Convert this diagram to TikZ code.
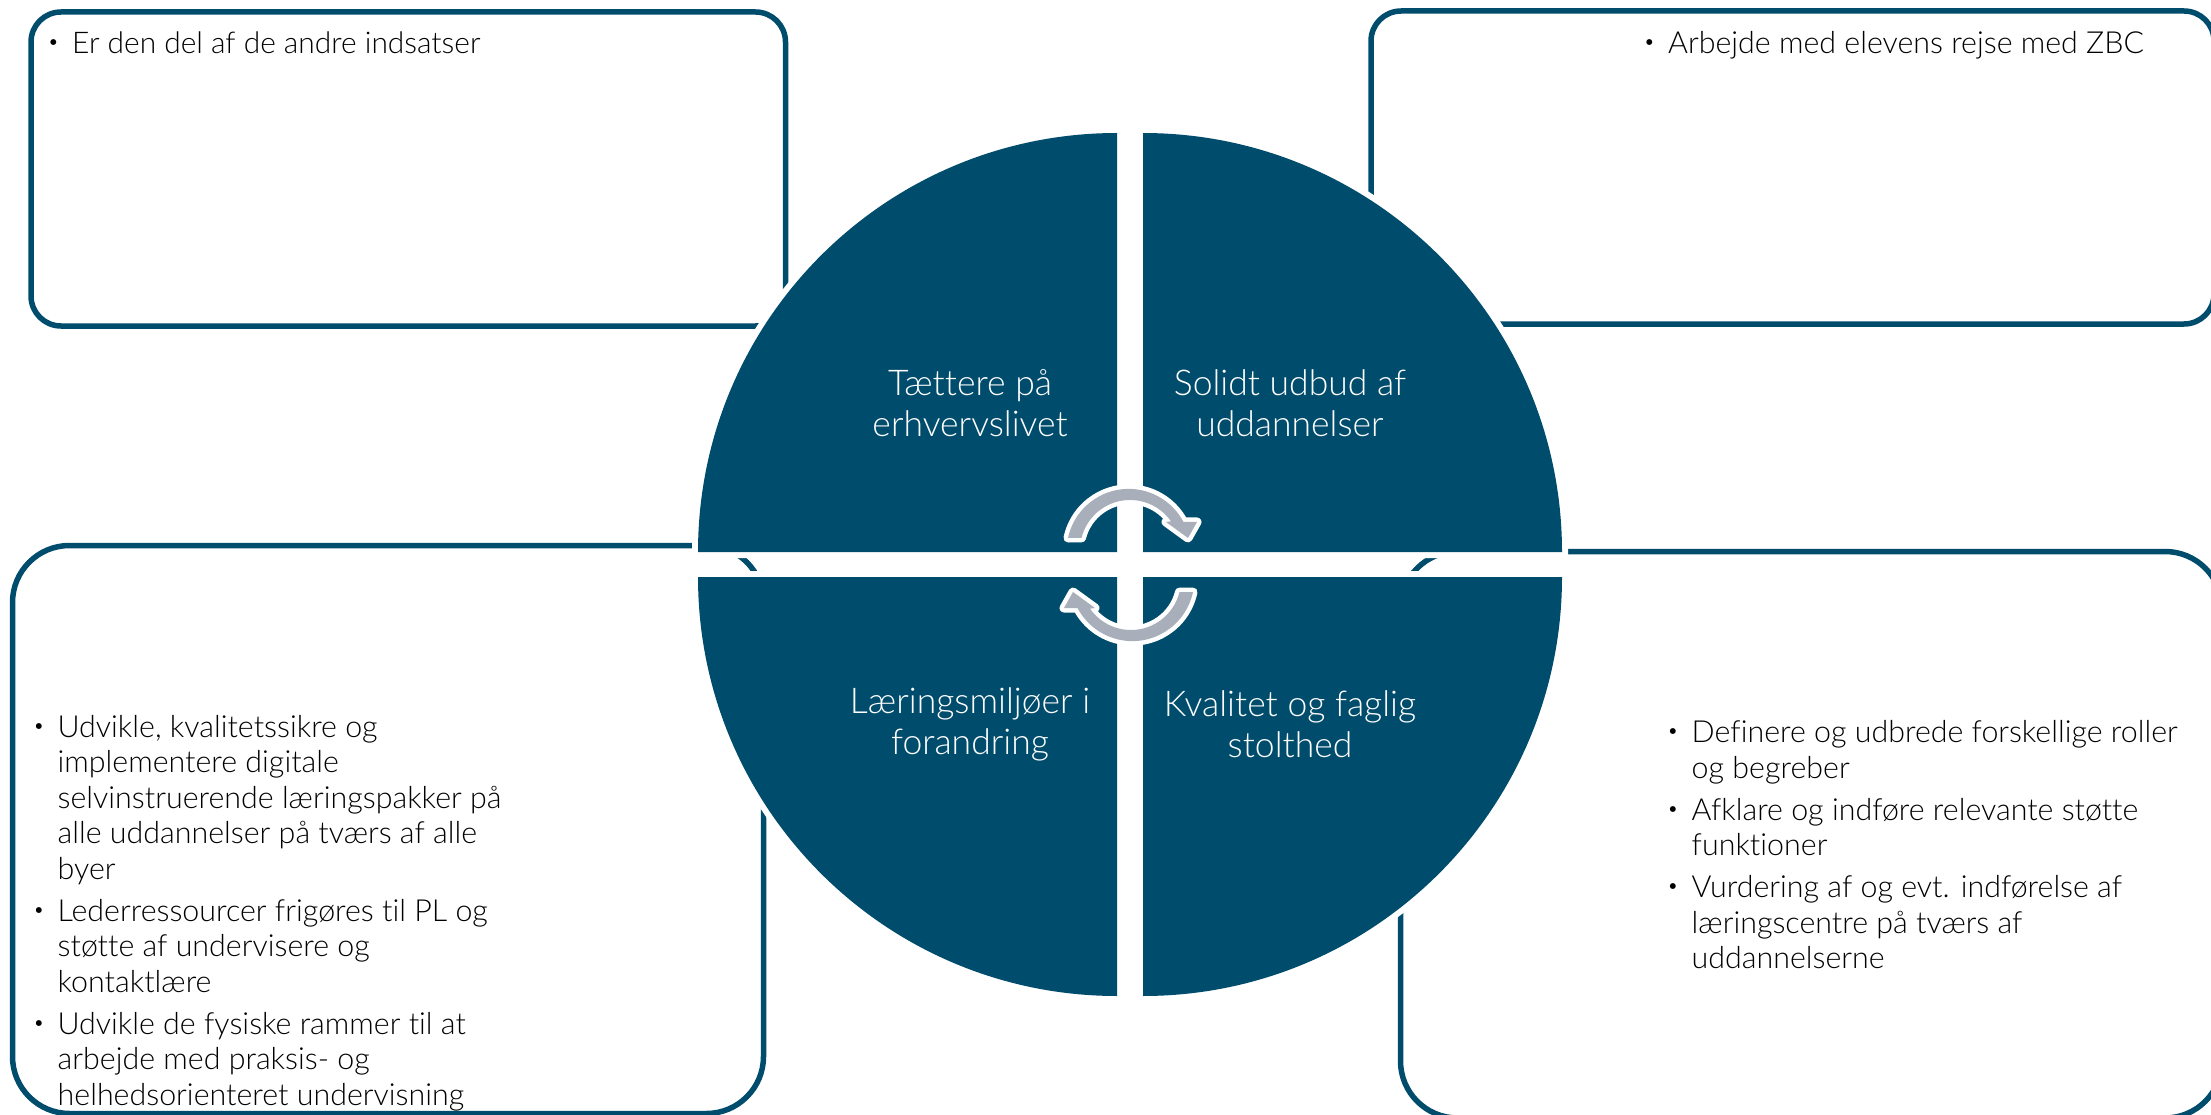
\documentclass[tikz,border=0pt]{standalone}
\usepackage{fontspec}
\setmainfont{Lato}[UprightFont=* Light,Ligatures=NoCommon]
\definecolor{navy}{HTML}{004C6C}
\definecolor{arrowgrey}{HTML}{A9AFBA}
\newcommand{\bul}{\llap{\raisebox{5pt}{\fontsize{20}{20}\selectfont •}\hspace{13pt}}}
\newcommand{\cyclearrow}{%
  \fill[arrowgrey,preaction={draw=white,line width=9pt,line join=round}]
    (1068,-538) arc[start angle=168,end angle=28,radius=62]
    -- (1197,-522) -- (1188,-538) -- (1166,-522) -- (1171,-521.3)
    arc[start angle=35,end angle=166,radius=50] -- cycle;}
\tikzset{
  x=1pt,y=1pt,
  boxline/.style={draw=navy,line width=5.5pt},
  quarter/.style={fill=navy,preaction={draw=white,line width=12pt}},
  listtext/.style={anchor=north west,inner sep=0pt,align=left,text=black,font=\fontsize{30.4}{35.5}\selectfont},
  quartertext/.style={anchor=center,inner sep=0pt,align=center,text=white,font=\fontsize{35.5}{41}\selectfont}
}
\begin{document}
\begin{tikzpicture}
\clip (0,0) rectangle (2211,-1115);
\fill[white] (0,0) rectangle (2211,-1115);
% boxes
\draw[boxline,rounded corners=30pt] (31,-12) rectangle (785.5,-326);
\draw[boxline,rounded corners=30pt] (1371,-11) rectangle (2214,-324);
\draw[boxline,rounded corners=57pt] (12.5,-545.5) rectangle (763.5,-1113.5);
\draw[boxline,rounded corners=57pt] (1400.5,-551.5) rectangle (2222,-1118);
% quarters
\path[quarter] (1117,-552) -- (698,-552) arc[start angle=180,end angle=90,radius=419] -- cycle;
\path[quarter] (1143,-552) -- (1143,-133) arc[start angle=90,end angle=0,radius=419] -- cycle;
\path[quarter] (1117,-577) -- (1117,-996) arc[start angle=270,end angle=180,radius=419] -- cycle;
\path[quarter] (1143,-577) -- (1562,-577) arc[start angle=0,end angle=-90,radius=419] -- cycle;
% arrows
\cyclearrow
\begin{scope}[rotate around={180:(1130.5,-565)}]
\cyclearrow
\end{scope}
% quarter labels
\node[quartertext] (tl) at (970,-403) {Tættere på\\erhvervslivet};
\node[quartertext] (tr) at (1290,-403) {Solidt udbud af\\uddannelser};
\node[quartertext] (bl) at (970,-724) {Læringsmiljøer i\\forandring};
\node[quartertext] (br) at (1290,-724) {Kvalitet og faglig\\stolthed};
% lists
\node[listtext,font=\fontsize{29.9}{35.5}\selectfont] (listtl) at (72,-32) {\bul Er den del af de andre indsatser};
\node[listtext] (listtr) at (1668,-31) {\bul Arbejde med elevens rejse med ZBC};
\node[listtext] (listbl) at (57.5,-715) {\bul Udvikle, kvalitetssikre og\\implementere digitale\\selvinstruerende læringspakker på\\alle uddannelser på tværs af alle\\byer\\[6.5pt]\bul Lederressourcer frigøres til PL og\\støtte af undervisere og\\kontaktlære\\[6.5pt]\bul Udvikle de fysiske rammer til at\\arbejde med praksis- og\\helhedsorienteret undervisning};
\node[listtext] (listbr) at (1691.5,-720.5) {\bul Definere og udbrede forskellige roller\\og begreber\\[6.5pt]\bul Afklare og indføre relevante støtte\\funktioner\\[6.5pt]\bul Vurdering af og evt. indførelse af\\læringscentre på tværs af\\uddannelserne};
\end{tikzpicture}
\end{document}
